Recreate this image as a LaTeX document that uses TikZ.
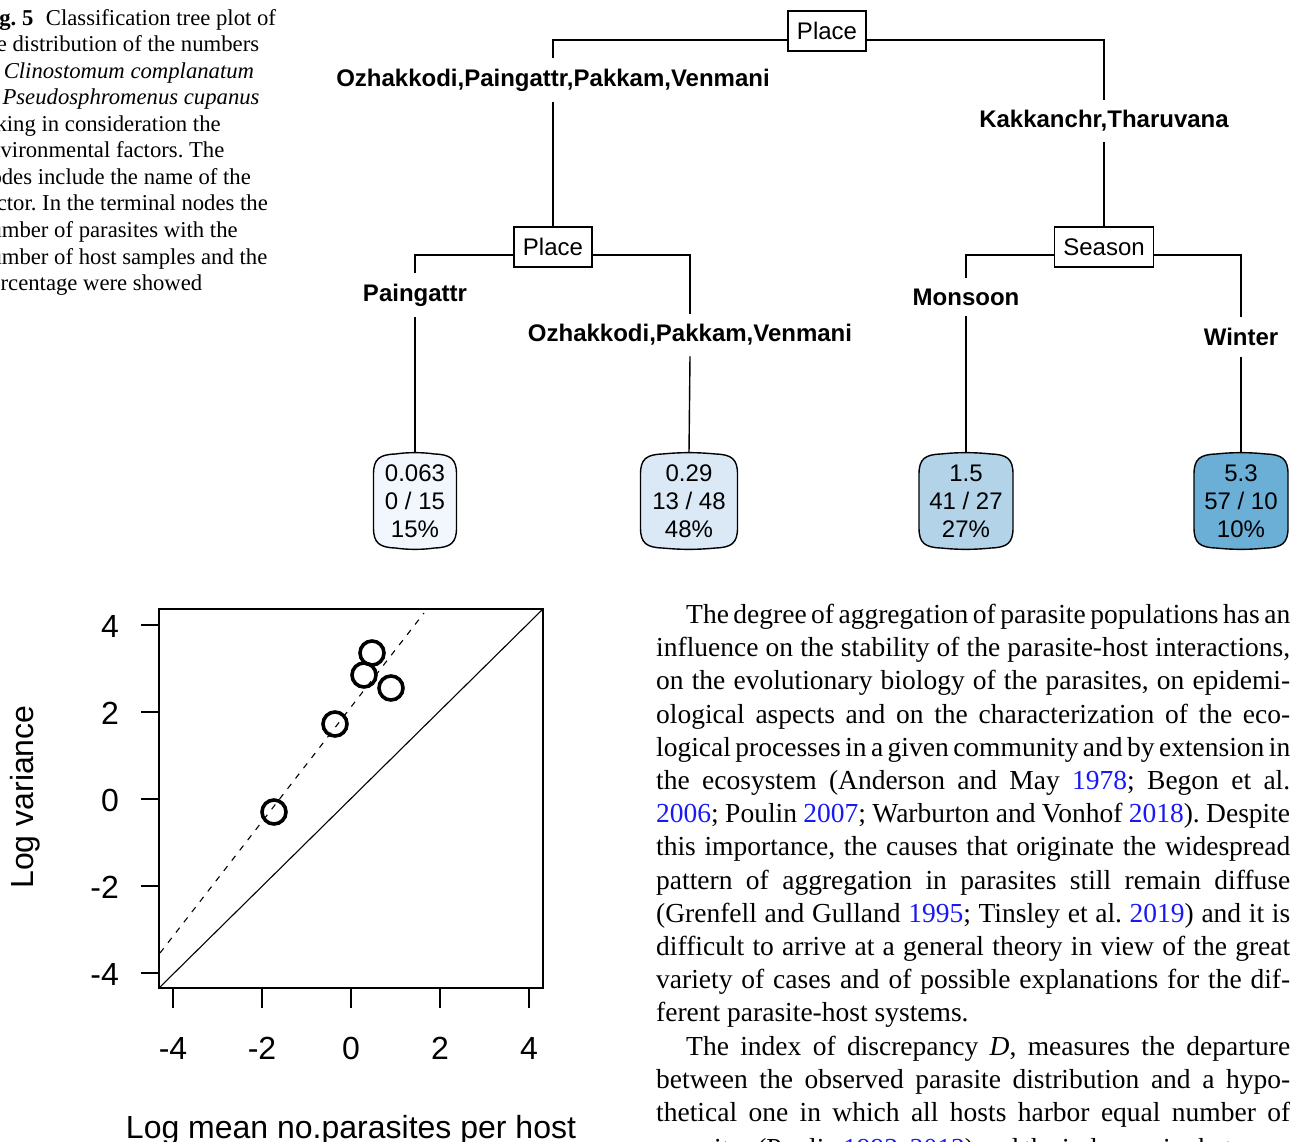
\documentclass[tikz,border=0pt]{standalone}
\usepackage{fontspec}
\setmainfont{Liberation Serif}
\newfontfamily\arialf{Liberation Sans}
\definecolor{lkblue}{RGB}{25,25,245}
\definecolor{leafA}{RGB}{241,247,253}
\definecolor{leafB}{RGB}{219,233,246}
\definecolor{leafC}{RGB}{178,211,232}
\definecolor{leafD}{RGB}{107,174,214}
\newcommand\lk[1]{\textcolor{lkblue}{#1}}
\newcommand\bodyfnt{\fontsize{27.5}{33.2}\selectfont\frenchspacing\spaceskip=.25em plus .5em minus .1em\relax}
\newcommand\capfnt{\fontsize{22.7}{26.5}\selectfont\frenchspacing}
\newcommand\leafshape[4]{%
 \path[draw=black, line width=1.4pt, fill=#4]
  ({#1-#3},{#2-27}) .. controls ({#1-#3},{#2-42}) and ({#1-#3+6},{#2-46.5}) .. ({#1-#3+22},{#2-47})
  .. controls ({#1-8},{#2-48.8}) and ({#1+8},{#2-48.8}) .. ({#1+#3-22},{#2-47})
  .. controls ({#1+#3-6},{#2-46.5}) and ({#1+#3},{#2-42}) .. ({#1+#3},{#2-27})
  -- ({#1+#3},{#2+27})
  .. controls ({#1+#3},{#2+42}) and ({#1+#3-6},{#2+46.5}) .. ({#1+#3-22},{#2+47})
  .. controls ({#1+8},{#2+48.8}) and ({#1-8},{#2+48.8}) .. ({#1-#3+22},{#2+47})
  .. controls ({#1-#3+6},{#2+46.5}) and ({#1-#3},{#2+42}) .. ({#1-#3},{#2+27}) -- cycle;}
\tikzset{
 splitbox/.style={draw, line width=1.4pt, font=\arialf\fontsize{24}{28}\selectfont, inner xsep=9pt, inner ysep=0pt, minimum height=40pt},
 brlabel/.style={font=\arialf\bfseries\fontsize{24}{28}\selectfont, inner xsep=1pt, inner ysep=10.5pt},
 leaftext/.style={font=\arialf\fontsize{24}{28}\selectfont, align=center, minimum height=96pt, inner sep=0pt},
 edge/.style={line width=1.4pt},
 bodyline/.style={anchor=base west, inner sep=0pt, font=\bodyfnt},
 capline/.style={anchor=base west, inner sep=0pt, font=\capfnt},
 plotfont/.style={font=\arialf\fontsize{32}{36}\selectfont, inner sep=0pt},
 axisline/.style={line width=1.6pt}
}
\begin{document}
\begin{tikzpicture}[x=1pt,y=-1pt]
\useasboundingbox (0,0) rectangle (1290,1142);
\begin{scope}
\clip (0,0) rectangle (1290,1142);
% ---------- caption ----------
\foreach \t [count=\i] in {{\textbf{Fig. 5}\hspace{0.55em}Classification tree plot of},
 {the distribution of the numbers},
 {of \textit{Clinostomum complanatum}},
 {in \textit{Pseudosphromenus cupanus}},
 {taking in consideration the},
 {environmental factors. The},
 {nodes include the name of the},
 {factor. In the terminal nodes the},
 {number of parasites with the},
 {number of host samples and the},
 {percentage were showed}}
 \node[capline] (cap\i) at (-21,{25.5+26.5*(\i-1)}) {\t};

% ---------- tree ----------
\node[splitbox] (root) at (827,31) {Place};
\node[brlabel] (lab1) at (553,80) {Ozhakkodi,Paingattr,Pakkam,Venmani};
\node[brlabel] (lab2) at (1104,121) {Kakkanchr,Tharuvana};
\node[splitbox] (place2) at (553,247) {Place};
\node[splitbox] (season) at (1104,247) {Season};
\node[brlabel] (lab3) at (415,295) {Paingattr};
\node[brlabel] (lab4) at (690,335) {Ozhakkodi,Pakkam,Venmani};
\node[brlabel] (lab5) at (966,297) {Monsoon};
\node[brlabel] (lab6) at (1241,337) {Winter};

\leafshape{415}{501}{41.5}{leafA}
\leafshape{689}{501}{48.5}{leafB}
\leafshape{966}{501}{47}{leafC}
\leafshape{1241}{501}{47}{leafD}
\node[leaftext, minimum width=83pt] (leaf1) at (415,501) {0.063\\0 / 15\\15\%};
\node[leaftext, minimum width=97pt] (leaf2) at (689,501) {0.29\\13 / 48\\48\%};
\node[leaftext, minimum width=94pt] (leaf3) at (966,501) {1.5\\41 / 27\\27\%};
\node[leaftext, minimum width=94pt] (leaf4) at (1241,501) {5.3\\57 / 10\\10\%};

\draw[edge] ([yshift=-9pt]root.west) -| (lab1.north);
\draw[edge] ([yshift=-9pt]root.east) -| (lab2.north);
\draw[edge] (lab1.south) -- (place2.north);
\draw[edge] (lab2.south) -- (season.north);
\draw[edge] ([yshift=-8pt]place2.west) -| (lab3.north);
\draw[edge] ([yshift=-8pt]place2.east) -| (lab4.north);
\draw[edge] ([yshift=-8pt]season.west) -| (lab5.north);
\draw[edge] ([yshift=-8pt]season.east) -| (lab6.north);
\draw[edge] (lab3.south) -- (leaf1.north);
\draw[edge] (lab4.south) -- (leaf2.north);
\draw[edge] (lab5.south) -- (leaf3.north);
\draw[edge] (lab6.south) -- (leaf4.north);

% ---------- plot ----------
\draw[axisline] (159,609) rectangle (543,988);
\foreach \v/\yy [count=\k] in {4/625,2/712,0/799,-2/886,-4/973} {
  \draw[axisline] (141,\yy) -- (159,\yy);
  \node[plotfont, anchor=base east] (ytl\k) at (119,{\yy+12}) {\v};
}
\foreach \v/\xx [count=\k] in {-4/173,-2/262,0/351,2/440,4/529} {
  \draw[axisline] (\xx,988) -- (\xx,1008);
  \node[plotfont, anchor=base] (xtl\k) at (\xx,1059) {\v};
}
\node[plotfont, rotate=90] (ytitle) at (25,797) {Log variance};
\node[plotfont, anchor=base] (xtitle) at (351,1138) {Log mean no.parasites per host};
\draw[line width=1.1pt] (159,988) -- (543,609);
\draw[line width=1.1pt, dash pattern=on 6pt off 7pt] (160,953) -- (424,613);
\foreach \px/\py in {372/653,364/675,391/688,335/724,274/812}
  \draw[line width=3.6pt] (\px,\py) circle[radius=12pt];

% ---------- body text ----------
\node[bodyline] (b1) at (686,623.5) {\makebox[604pt][s]{The degree of aggregation of parasite populations has an}};
\foreach \t [count=\i] in {{influence on the stability of the parasite-host interactions,},
 {on the evolutionary biology of the parasites, on epidemi-},
 {ological aspects and on the characterization of the eco-},
 {logical processes in a given community and by extension in},
 {the ecosystem (Anderson and May \lk{1978}; Begon et al.},
 {\lk{2006}; Poulin \lk{2007}; Warburton and Vonhof \lk{2018}). Despite},
 {this importance, the causes that originate the widespread},
 {pattern of aggregation in parasites still remain diffuse},
 {(Grenfell and Gulland \lk{1995}; Tinsley et al. \lk{2019}) and it is},
 {difficult to arrive at a general theory in view of the great},
 {variety of cases and of possible explanations for the dif-}}
 \node[bodyline] (bl\i) at (656,{623.5+33.2*\i}) {\makebox[634pt][s]{\t}};
\node[bodyline] (b13) at (656,{623.5+33.2*12}) {ferent parasite-host systems.};
\node[bodyline] (b14) at (686,{623.5+33.2*13}) {\makebox[604pt][s]{The index of discrepancy \textit{D}, measures the departure}};
\foreach \t [count=\i from 15] in {{between the observed parasite distribution and a hypo-},
 {thetical one in which all hosts harbor equal number of}}
 \node[bodyline] (bm\i) at (656,{623.5+33.2*(\i-1)}) {\makebox[634pt][s]{\t}};
\node[bodyline] (b17) at (656,1157) {\makebox[634pt][s]{parasites (Poulin \lk{1993}, \lk{2013}) and the index varies between}};
\end{scope}
\end{tikzpicture}
\end{document}
